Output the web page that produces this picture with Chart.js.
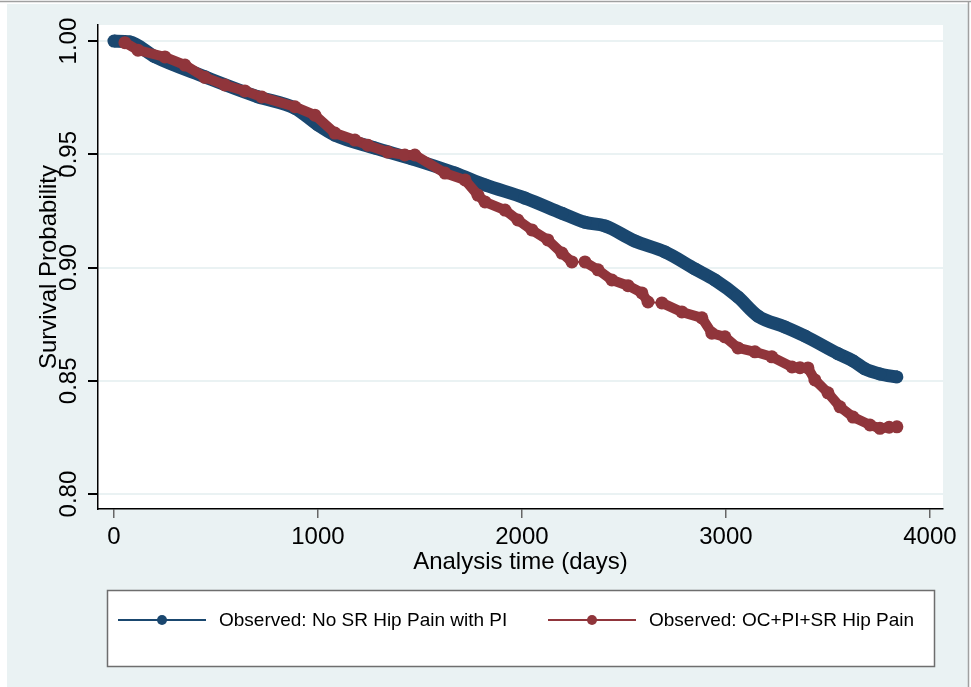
<!DOCTYPE html>
<html>
<head>
<meta charset="utf-8">
<script src="https://cdn.jsdelivr.net/npm/chart.js@4.4.1/dist/chart.umd.min.js"></script>
<style>
  body { margin: 0; background: #fff; }
  canvas { display: block; }
</style>
</head>
<body>
<canvas id="survChart" width="971" height="687"></canvas>
<script>
// Kaplan-Meier style curves
const blueDays = [0, 78, 201, 446, 706, 887, 1000, 1083, 1279, 1461, 1672, 1819, 2015, 2196, 2309, 2407, 2554, 2701, 2848, 2946, 3059, 3157, 3289, 3387, 3549, 3623, 3681, 3755, 3838];
const blueSurv = [1.000, 0.9996, 0.9931, 0.9842, 0.9754, 0.9704, 0.963, 0.9585, 0.9528, 0.948, 0.9417, 0.9365, 0.9307, 0.924, 0.920, 0.9184, 0.9117, 0.9069, 0.8994, 0.8945, 0.887, 0.8786, 0.8738, 0.8698, 0.862, 0.8588, 0.8553, 0.853, 0.8517];

const redDays = [54, 118, 250, 348, 446, 544, 642, 725, 887, 985, 1083, 1181, 1245, 1343, 1426, 1475, 1623, 1721, 1784, 1819, 1917, 1980, 2049, 2127, 2196, 2245, 2309, 2373, 2441, 2520, 2588, 2618, 2686, 2784, 2882, 2931, 2995, 3059, 3142, 3225, 3324, 3363, 3402, 3436, 3500, 3559, 3623, 3706, 3755, 3800, 3838];
const redSurv = [0.9993, 0.996, 0.993, 0.9894, 0.984, 0.9806, 0.978, 0.9753, 0.971, 0.9673, 0.9594, 0.9563, 0.954, 0.951, 0.9497, 0.9497, 0.9417, 0.9387, 0.932, 0.929, 0.9254, 0.921, 0.9166, 0.9122, 0.9064, 0.9025, 0.9025, 0.899, 0.8945, 0.892, 0.8888, 0.8848, 0.8844, 0.8804, 0.8778, 0.871, 0.8694, 0.8645, 0.8628, 0.8606, 0.8561, 0.8558, 0.8557, 0.8504, 0.8447, 0.8385, 0.834, 0.8305, 0.829, 0.8295, 0.8297];

const seriesNames = ['Observed: No SR Hip Pain with PI', 'Observed: OC+PI+SR Hip Pain'];
const xTicks = [0, 1000, 2000, 3000, 4000];
const yTicks = [0.80, 0.85, 0.90, 0.95, 1.00];

const FONT = 'Liberation Sans, Arial, sans-serif';
const BLUE = '#1a476f';
const RED = '#90353b';
const BG = '#eaf2f3';

const toPts = (xs, ys) => xs.map((x, i) => ({ x: x, y: ys[i] }));

const backdrop = {
  id: 'backdrop',
  beforeDraw(chart) {
    const c = chart.ctx, a = chart.chartArea;
    c.save();
    c.fillStyle = '#fff';
    c.fillRect(0, 0, chart.width, chart.height);
    c.fillStyle = BG;
    c.fillRect(7, 4, 961, chart.height - 4);
    c.strokeStyle = '#a0a0a0';
    c.lineWidth = 1.5;
    c.beginPath();
    c.moveTo(0, 1.5); c.lineTo(chart.width, 1.5);
    c.moveTo(968.5, 2); c.lineTo(968.5, chart.height);
    c.stroke();
    c.fillStyle = '#fff';
    c.fillRect(a.left, a.top, a.right - a.left, a.bottom - a.top);
    c.restore();
  }
};

// rotated y tick labels, like Stata
const yLabels = {
  id: 'yLabels',
  afterDraw(chart) {
    const c = chart.ctx, s = chart.scales.y;
    c.save();
    c.font = '24px ' + FONT;
    c.fillStyle = '#000';
    c.textAlign = 'center';
    c.textBaseline = 'middle';
    yTicks.forEach(v => {
      const py = s.getPixelForValue(v);
      c.save();
      c.translate(68, py);
      c.rotate(-Math.PI / 2);
      c.fillText(v.toFixed(2), 0, 1);
      c.restore();
    });
    c.restore();
  }
};

const legendBox = {
  id: 'legendBox',
  afterDraw(chart) {
    const c = chart.ctx;
    const box = { x: 107, y: 590, w: 827, h: 76 };
    c.save();
    c.fillStyle = '#fff';
    c.fillRect(box.x, box.y, box.w, box.h);
    c.strokeStyle = '#6e6e6e';
    c.lineWidth = 1.5;
    c.strokeRect(box.x + 0.5, box.y + 0.5, box.w, box.h);
    const starts = [118, 548];
    const ly = 620;
    chart.data.datasets.forEach((ds, i) => {
      const x0 = starts[i];
      c.strokeStyle = ds.borderColor;
      c.lineWidth = 2;
      c.beginPath();
      c.moveTo(x0, ly); c.lineTo(x0 + 88, ly);
      c.stroke();
      c.fillStyle = ds.borderColor;
      c.beginPath();
      c.arc(x0 + 44, ly, 5, 0, Math.PI * 2);
      c.fill();
      c.fillStyle = '#000';
      c.font = '19px ' + FONT;
      c.textAlign = 'left';
      c.textBaseline = 'middle';
      c.fillText(ds.label, x0 + 101, ly + 1);
    });
    c.restore();
  }
};

new Chart(document.getElementById('survChart'), {
  type: 'line',
  data: {
    datasets: [{
      label: seriesNames[0],
      data: toPts(blueDays, blueSurv),
      borderColor: BLUE,
      backgroundColor: BLUE,
      borderWidth: 13,
      pointRadius: 6.5,
      pointBorderWidth: 0,
      cubicInterpolationMode: 'monotone',
      order: 1
    },
    {
      label: seriesNames[1],
      data: toPts(redDays, redSurv),
      borderColor: RED,
      backgroundColor: RED,
      borderWidth: 10,
      pointRadius: 6.5,
      pointBorderWidth: 0,
      tension: 0,
      order: 0,
      segment: {
        borderWidth: ctx => (ctx.p1.parsed.x - ctx.p0.parsed.x > 55 &&
          Math.abs(ctx.p1.parsed.y - ctx.p0.parsed.y) < 0.0008) ? 2 : 10
      }
    }]
  },
  options: {
    responsive: false,
    animation: false,
    layout: { padding: { left: 0, top: 25, right: 28, bottom: 108 } },
    plugins: {
      legend: { display: false },
      tooltip: { enabled: false }
    },
    scales: {
      x: {
        type: 'linear',
        min: -78,
        max: 4064,
        afterBuildTicks: s => { s.ticks = xTicks.map(v => ({ value: v })); },
        afterFit: s => { s.height = 70; },
        ticks: {
          color: '#000',
          font: { family: FONT, size: 24 },
          padding: 5,
          maxRotation: 0,
          callback: v => String(v)
        },
        grid: { drawOnChartArea: false, tickColor: '#666', tickLength: 9, lineWidth: 1.5 },
        border: { color: '#000', width: 1.5 },
        title: {
          display: true,
          text: 'Analysis time (days)',
          color: '#000',
          font: { family: FONT, size: 24, lineHeight: 1 },
          padding: { top: 0, bottom: 5 }
        }
      },
      y: {
        type: 'linear',
        min: 0.7934,
        max: 1.0071,
        afterBuildTicks: s => { s.ticks = yTicks.map(v => ({ value: v })); },
        afterFit: s => { s.width = 98; },
        ticks: { display: false },
        grid: { color: BG, lineWidth: 2, tickColor: '#000', tickLength: 10 },
        border: { color: '#000', width: 1.5 },
        title: {
          display: true,
          text: 'Survival Probability',
          color: '#000',
          font: { family: FONT, size: 24, lineHeight: 1 },
          padding: { top: 37, bottom: 0 }
        }
      }
    }
  },
  plugins: [backdrop, yLabels, legendBox]
});
</script>
</body>
</html>
